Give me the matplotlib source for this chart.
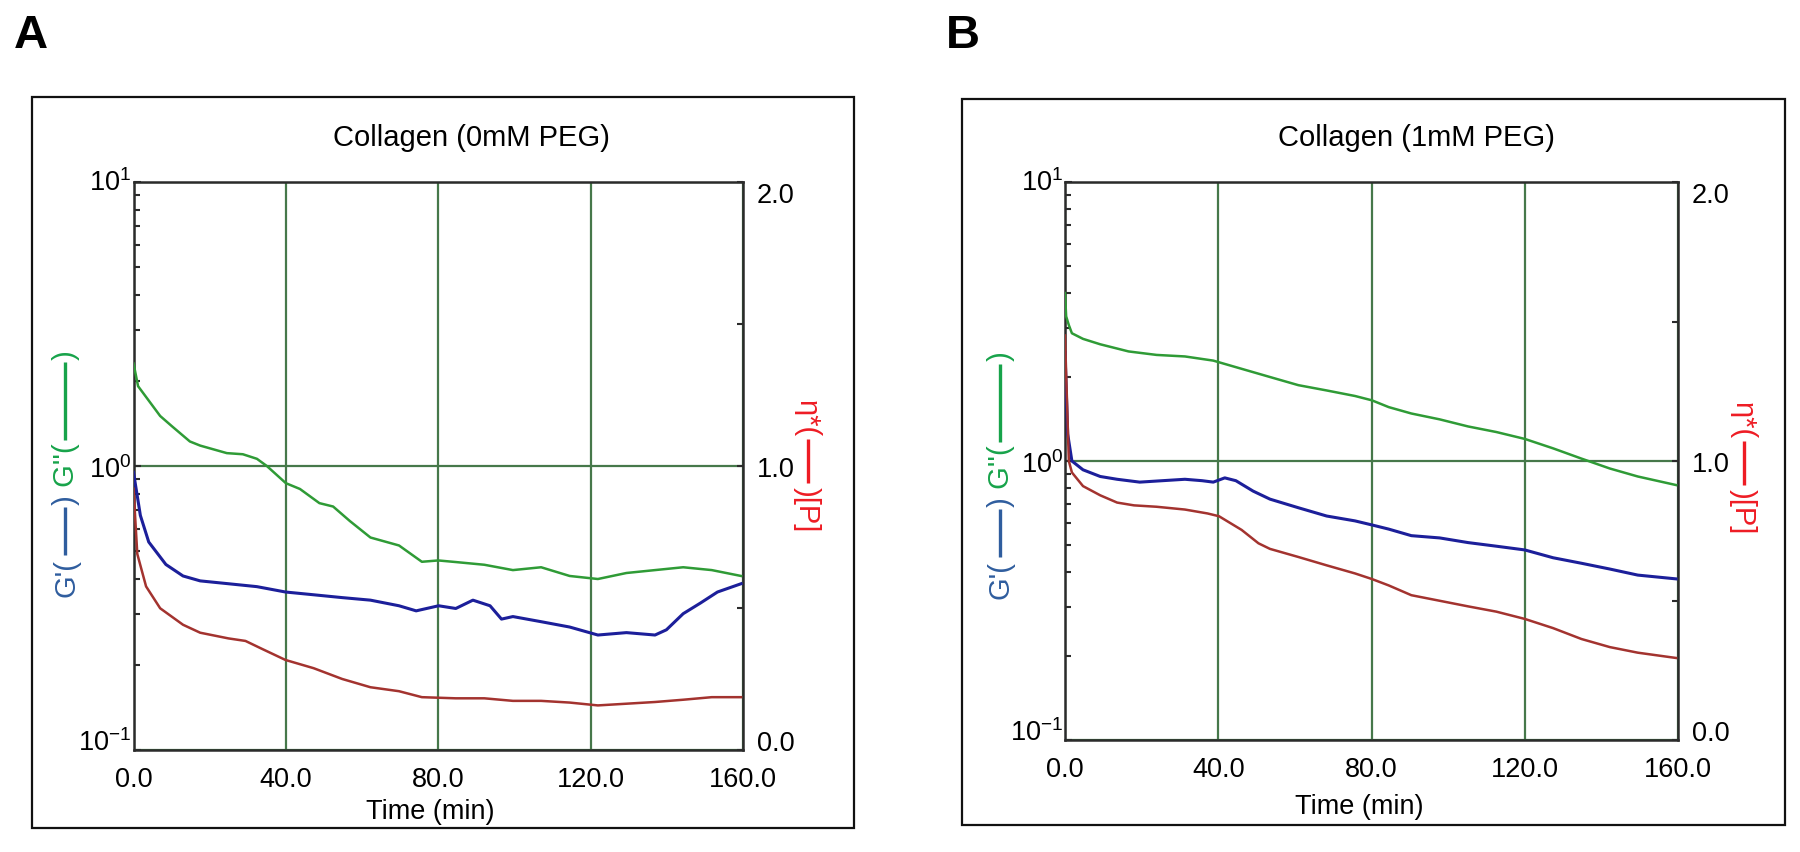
import matplotlib
matplotlib.use("Agg")
import matplotlib.pyplot as plt
from matplotlib.patches import Rectangle
from matplotlib.lines import Line2D
from matplotlib.ticker import FixedLocator, LogLocator, NullFormatter

plt.rcParams['font.family'] = ['Liberation Sans', 'DejaVu Sans']
plt.rcParams['mathtext.fontset'] = 'custom'
plt.rcParams['mathtext.rm'] = 'Liberation Sans'
plt.rcParams['mathtext.it'] = 'Liberation Sans:italic'
plt.rcParams['mathtext.bf'] = 'Liberation Sans:bold'

# ---------------- data ----------------
x_ticks = [0, 40, 80, 120, 160]
x_ticklabels = ['0.0', '40.0', '80.0', '120.0', '160.0']
left_ticks = [0.1, 1, 10]
left_ticklabels = [r'$\mathregular{10^{-1}}$', r'$\mathregular{10^{0}}$', r'$\mathregular{10^{1}}$']
right_ticks = [0.0, 0.5, 1.0, 1.5, 2.0]
right_ticklabels = ['0.0', '', '1.0', '', '2.0']

# Panel A: Collagen (0mM PEG)
a_t_green = [0, 1.2, 7.0, 10.1, 14.8, 17.5, 24.5, 28.7, 32.4, 35.0, 40.0, 43.7, 48.8, 52.4,
             56.8, 62.2, 69.7, 75.7, 80.0, 84.6, 92.1, 99.6, 107.0, 114.5, 121.9, 129.4,
             136.9, 144.3, 151.8, 159.5]
a_green = [2.30, 1.91, 1.50, 1.38, 1.22, 1.18, 1.11, 1.10, 1.06, 1.00, 0.87, 0.83, 0.74, 0.72,
           0.64, 0.56, 0.525, 0.46, 0.465, 0.459, 0.449, 0.43, 0.44, 0.41, 0.40, 0.42,
           0.43, 0.44, 0.43, 0.41]
a_t_blue = [0, 1.8, 4.0, 8.5, 13.0, 17.5, 24.9, 32.4, 39.9, 47.3, 54.8, 62.2, 69.7, 74.2,
            80.1, 84.6, 89.1, 93.6, 96.6, 99.6, 107.0, 114.5, 121.9, 129.4, 136.9, 139.9,
            144.3, 148.8, 153.3, 159.5]
a_blue = [0.95, 0.67, 0.54, 0.45, 0.41, 0.394, 0.385, 0.376, 0.36, 0.352, 0.344, 0.337, 0.322,
          0.309, 0.322, 0.315, 0.337, 0.322, 0.289, 0.295, 0.283, 0.271, 0.254, 0.259, 0.254,
          0.265, 0.302, 0.329, 0.36, 0.385]
a_t_red = [0, 1.0, 3.3, 7.0, 13.0, 17.5, 24.9, 29.4, 33.9, 39.9, 47.3, 54.8, 62.2, 69.7, 75.7,
           84.6, 92.1, 99.6, 107.0, 114.5, 121.9, 129.4, 136.9, 144.3, 151.8, 159.5]
a_red = [0.92, 0.69, 0.576, 0.499, 0.441, 0.413, 0.393, 0.384, 0.355, 0.317, 0.288, 0.25,
         0.221, 0.207, 0.186, 0.182, 0.182, 0.173, 0.173, 0.167, 0.157, 0.163, 0.169, 0.177,
         0.186, 0.186]

# Panel B: Collagen (1mM PEG)
b_t_green = [0, 0.3, 1.0, 1.8, 4.7, 9.2, 16.6, 23.9, 31.3, 38.7, 46.1, 53.5, 60.9, 68.3, 75.7,
             80.1, 84.5, 90.4, 97.8, 105.2, 112.6, 120.0, 127.4, 134.8, 142.2, 149.5, 159.5]
b_green = [4.0, 3.3, 3.07, 2.87, 2.74, 2.62, 2.47, 2.40, 2.37, 2.29, 2.14, 2.00, 1.87, 1.79,
           1.71, 1.65, 1.56, 1.48, 1.41, 1.33, 1.27, 1.20, 1.11, 1.02, 0.94, 0.88, 0.82]
b_t_blue = [0, 0.7, 1.8, 4.7, 9.2, 13.6, 19.5, 25.4, 31.3, 35.8, 38.7, 41.7, 44.6, 49.1, 53.5,
            60.9, 68.3, 75.7, 80.1, 84.5, 90.4, 97.8, 105.2, 112.6, 120.0, 127.4, 134.8,
            142.2, 149.5, 159.5]
b_blue = [2.45, 1.25, 1.0, 0.93, 0.88, 0.86, 0.84, 0.85, 0.86, 0.85, 0.84, 0.87, 0.85, 0.78,
          0.73, 0.68, 0.635, 0.61, 0.59, 0.57, 0.54, 0.53, 0.51, 0.495, 0.48, 0.45, 0.43,
          0.41, 0.39, 0.378]
b_t_red = [0, 1.0, 1.8, 4.7, 9.2, 13.6, 18.0, 23.9, 31.3, 37.2, 40.2, 46.1, 50.5, 53.5, 60.9,
           68.3, 75.7, 80.1, 84.5, 90.4, 97.8, 105.2, 112.6, 120.0, 127.4, 134.8, 142.2,
           149.5, 159.5]
b_red = [1.45, 1.0, 0.959, 0.91, 0.877, 0.851, 0.841, 0.836, 0.826, 0.812, 0.802, 0.753,
         0.705, 0.685, 0.656, 0.626, 0.597, 0.577, 0.554, 0.519, 0.499, 0.479, 0.46, 0.434,
         0.401, 0.362, 0.333, 0.313, 0.294]

titles = ['Collagen (0mM PEG)', 'Collagen (1mM PEG)']
letters = ['A', 'B']
xlabel = 'Time (min)'

# ---------------- styling ----------------
W, H = 1800, 853
GREEN = '#2f9b36'
BLUE = '#1c1f9a'
RED = '#a3332f'
GRID = '#46784a'
LBL_BLUE = '#2f5d9e'
LBL_GREEN = '#17a34a'
LBL_RED = '#ee1c24'
SPINE = '#2b2b2b'
LABEL_FS = 21

fig = plt.figure(figsize=(W / 100, H / 100), dpi=100)
renderer = fig.canvas.get_renderer()


def frac(px, py):
    return px / W, 1 - py / H


def stacked_label(x_base, y_start, pieces, upward, fs):
    """Rotated label made of text pieces and solid line pieces (pixel coords from top)."""
    em = fs * 100 / 72
    gap = 3
    ycur = H - y_start
    sign = 1 if upward else -1
    rot = 90 if upward else 270
    xline = x_base - 0.30 * em if upward else x_base + 0.30 * em
    for kind, val, col in pieces:
        if kind == 't':
            tt = fig.text(x_base / W, ycur / H, val, fontsize=fs, color=col, rotation=rot,
                          rotation_mode='anchor', ha='left', va='baseline')
            ycur += sign * tt.get_window_extent(renderer).height
        else:
            y0 = ycur + sign * gap
            y1 = y0 + sign * val
            fig.add_artist(Line2D([xline / W, xline / W], [y0 / H, y1 / H],
                                  transform=fig.transFigure, color=col, lw=2.4,
                                  solid_capstyle='butt'))
            ycur = y1 + sign * gap


layout = [
    dict(box=(32, 98, 854, 829), axes=(133.5, 183, 743, 751), letter_xy=(14, 48),
         title_xy=(471, 146), xlabel_xy=(430, 819), ylab=(74, 597), rlab=(799, 400)),
    dict(box=(962, 99.5, 1785, 825.5), axes=(1065, 183, 1678, 741), letter_xy=(946, 48),
         title_xy=(1416, 146), xlabel_xy=(1359, 814), ylab=(1009, 599), rlab=(1735, 402)),
]
series = [
    (a_t_green, a_green, a_t_blue, a_blue, a_t_red, a_red),
    (b_t_green, b_green, b_t_blue, b_blue, b_t_red, b_red),
]

for i, L in enumerate(layout):
    # outer panel frame
    x0, y0, x1, y1 = L['box']
    fx0, fy1 = frac(x0, y1)
    fig.patches.append(Rectangle((fx0, fy1), (x1 - x0) / W, (y1 - y0) / H,
                                 transform=fig.transFigure, fill=False,
                                 edgecolor='#111111', linewidth=1.6))
    l, t, r, b = L['axes']
    fl, fb = frac(l, b)
    ax = fig.add_axes([fl, fb, (r - l) / W, (b - t) / H])
    tg, g2, tb, g1, tr, eta = series[i]

    ax.set_yscale('log')
    ax.set_xlim(0, 160)
    ax.set_ylim(0.1, 10)
    ax.plot(tg, g2, color=GREEN, lw=1.8, zorder=3)
    ax.plot(tb, g1, color=BLUE, lw=2.2, zorder=3)

    ax.set_xticks(x_ticks)
    ax.set_xticklabels(x_ticklabels)
    ax.yaxis.set_major_locator(FixedLocator(left_ticks))
    ax.set_yticklabels(left_ticklabels)
    ax.yaxis.set_minor_locator(LogLocator(base=10, subs=[2, 3, 4, 5, 6, 7, 8, 9]))
    ax.yaxis.set_minor_formatter(NullFormatter())
    ax.tick_params(axis='x', length=0, pad=11.5, labelsize=19.5)
    ax.tick_params(axis='y', which='major', direction='in', length=5, width=1.5,
                   color=SPINE, pad=1.5, labelsize=19.5, right=False)
    ax.tick_params(axis='y', which='minor', direction='in', length=4, width=1.5,
                   color=SPINE, right=False)
    ylabs = ax.get_yticklabels()
    ylabs[-1].set_va('center')
    ylabs[0].set_va('baseline')

    ax.grid(True, which='major', color=GRID, lw=1.6, zorder=1)
    ax.set_axisbelow(True)
    for s in ax.spines.values():
        s.set_color(SPINE)
        s.set_linewidth(1.8)

    ax2 = ax.twinx()
    ax2.set_ylim(0, 2.0)
    ax2.plot(tr, eta, color=RED, lw=1.8, zorder=3)
    ax2.set_yticks(right_ticks)
    ax2.set_yticklabels(right_ticklabels)
    ax2.tick_params(axis='y', direction='in', length=4, width=1.5, color=SPINE,
                    pad=10, labelsize=19.5)
    rlabs = ax2.get_yticklabels()
    rlabs[-1].set_va('top')
    rlabs[0].set_va('baseline')
    for s in ax2.spines.values():
        s.set_visible(False)

    # panel letter
    lx, ly = frac(*L['letter_xy'])
    fig.text(lx, ly, letters[i], fontsize=34, fontweight='bold', ha='left', va='baseline')
    # title
    tx, ty = frac(*L['title_xy'])
    fig.text(tx, ty, titles[i], fontsize=21, ha='center', va='baseline')
    # x label
    xx, xy = frac(*L['xlabel_xy'])
    fig.text(xx, xy, xlabel, fontsize=19.5, ha='center', va='baseline')
    # left multicolour axis label, reading upwards
    stacked_label(L['ylab'][0], L['ylab'][1],
                  [('t', "G'(", LBL_BLUE), ('l', 48, LBL_BLUE), ('t', ")", LBL_BLUE),
                   ('t', " G''(", LBL_GREEN), ('l', 78, LBL_GREEN), ('t', ")", LBL_GREEN)],
                  True, LABEL_FS)
    # right axis label, reading downwards
    stacked_label(L['rlab'][0], L['rlab'][1],
                  [('t', "η*(", LBL_RED), ('l', 44, LBL_RED), ('t', ")[P]", LBL_RED)],
                  False, LABEL_FS)

fig.savefig('out.png', dpi=100, facecolor='white')
